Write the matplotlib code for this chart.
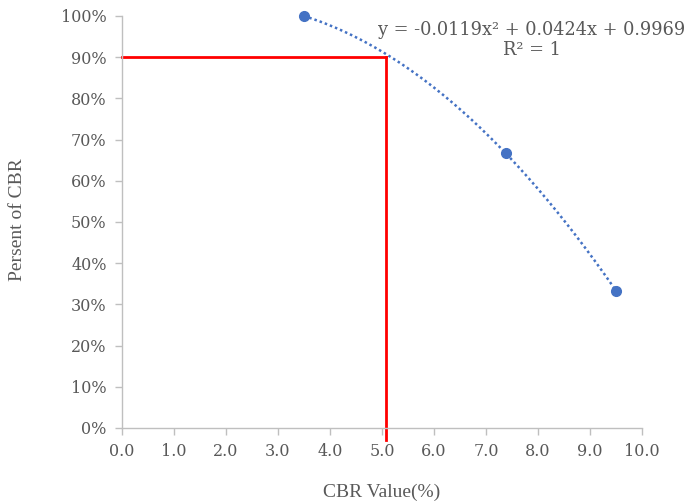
import numpy as np
import matplotlib
matplotlib.use("Agg")
import matplotlib.pyplot as plt
from matplotlib.ticker import PercentFormatter

# Data
cbr_values = [3.5, 7.38, 9.5]
percent_cbr = [1.0, 0.6667, 0.3333]
x_ticks = [0, 1, 2, 3, 4, 5, 6, 7, 8, 9, 10]
y_ticks = [0, 0.1, 0.2, 0.3, 0.4, 0.5, 0.6, 0.7, 0.8, 0.9, 1.0]
target_percent = 0.9
target_cbr = 5.07
equation_text = "y = -0.0119x² + 0.0424x + 0.9969"
r2_text = "R² = 1"

plt.rcParams['font.family'] = ['DejaVu Serif']
gray = '#595959'
axis_gray = '#bfbfbf'

fig = plt.figure(figsize=(6.91, 5.04), dpi=100)
ax = fig.add_axes([122/691, 76/504, 520/691, 412/504])

# trendline (quadratic fit)
coef = np.polyfit(cbr_values, percent_cbr, 2)
xs = np.linspace(min(cbr_values), max(cbr_values), 200)
ax.plot(xs, np.polyval(coef, xs), linestyle=(0, (1, 1.2)), color='#4472C4', linewidth=1.8, zorder=3)

# points
ax.plot(cbr_values, percent_cbr, 'o', color='#4472C4', markersize=7, zorder=4, clip_on=False)

# red reference lines
ax.plot([0, target_cbr], [target_percent, target_percent], color='#ff0000', linewidth=2, zorder=2, clip_on=False)
ax.plot([target_cbr, target_cbr], [-0.03, target_percent], color='#ff0000', linewidth=2, zorder=2, clip_on=False)

ax.set_xlim(0, 10)
ax.set_ylim(0, 1.0)
ax.set_xticks(x_ticks)
ax.set_xticklabels([f"{v:.1f}" for v in x_ticks])
ax.set_yticks(y_ticks)
ax.yaxis.set_major_formatter(PercentFormatter(1.0, decimals=0))

for s in ['top', 'right']:
    ax.spines[s].set_visible(False)
for s in ['left', 'bottom']:
    ax.spines[s].set_color(axis_gray)
    ax.spines[s].set_linewidth(1.0)
ax.tick_params(axis='both', colors=axis_gray, length=5, width=1, labelcolor=gray, labelsize=11.5)
ax.tick_params(axis='x', pad=6)
ax.tick_params(axis='y', pad=6)

fig.text(382/691, 1 - 492/504, "CBR Value(%)", ha='center', va='center', color=gray, fontsize=14,
         family='Liberation Serif')
fig.text(18/691, 1 - 220/504, "Persent of CBR", ha='center', va='center', rotation=90, color=gray,
         fontsize=14, family='Liberation Serif')

fig.text(532/691, 1 - 30/504, equation_text, ha='center', va='center', color=gray, fontsize=12.8)
fig.text(532/691, 1 - 50/504, r2_text, ha='center', va='center', color=gray, fontsize=12.8)

fig.savefig("out.png", dpi=100)
